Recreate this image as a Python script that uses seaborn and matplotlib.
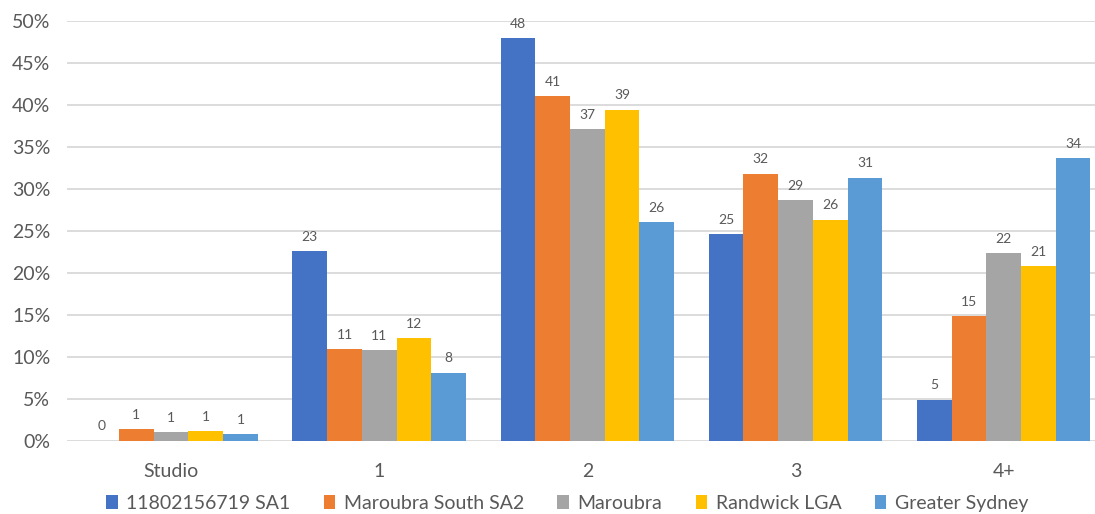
import matplotlib
matplotlib.use("Agg")
import matplotlib.pyplot as plt
from matplotlib.patches import Patch
import seaborn as sns
import pandas as pd

# Dwelling size (bedrooms) distribution, percent of dwellings
categories = ["Studio", "1", "2", "3", "4+"]
series_names = ["11802156719 SA1", "Maroubra South SA2", "Maroubra",
                "Randwick LGA", "Greater Sydney"]
sa1 = [0.0, 22.6, 47.9, 24.6, 4.9]
sa2 = [1.4, 10.9, 41.0, 31.8, 14.8]
maroubra = [1.0, 10.8, 37.1, 28.6, 22.3]
randwick = [1.1, 12.2, 39.4, 26.3, 20.8]
sydney = [0.8, 8.1, 26.0, 31.3, 33.6]
yticks = [0, 5, 10, 15, 20, 25, 30, 35, 40, 45, 50]

colors = ["#4472C4", "#ED7D31", "#A5A5A5", "#FFC000", "#5B9BD5"]
text_grey = "#595959"

rows = []
for name, vals in zip(series_names, [sa1, sa2, maroubra, randwick, sydney]):
    for cat, v in zip(categories, vals):
        rows.append({"Bedrooms": cat, "Area": name, "Share": v})
df = pd.DataFrame(rows)

sns.set_theme(style="white")
plt.rcParams["font.family"] = ["Lato", "DejaVu Sans"]

fig = plt.figure(figsize=(10.95, 5.14), dpi=100)
ax = fig.add_axes([0.0612, 0.1426, 0.9388, 0.8171])

sns.barplot(data=df, x="Bedrooms", y="Share", hue="Area",
            order=categories, hue_order=series_names,
            palette=colors, width=0.834, gap=0, saturation=1,
            linewidth=0, edgecolor="none",
            errorbar=None, legend=False, ax=ax)

for container in ax.containers:
    ax.bar_label(container, fmt="{:.0f}", padding=6, fontsize=10,
                 color=text_grey)

ax.set_ylim(0, 50)
ax.set_xlim(-0.5, 4.4387)
ax.set_yticks(yticks)
ax.set_yticklabels([f"{t}%" for t in yticks])
ax.yaxis.grid(True, color="#D9D9D9", linewidth=1.3)
ax.set_axisbelow(True)
for s in ax.spines.values():
    s.set_visible(False)
ax.tick_params(axis="both", length=0, labelsize=14, colors=text_grey)
ax.tick_params(axis="y", pad=12)
ax.tick_params(axis="x", pad=16)
ax.set_xlabel("")
ax.set_ylabel("")

handles = [Patch(facecolor=c, edgecolor="none") for c in colors]
fig.legend(handles, series_names, loc="lower center", ncol=5,
           bbox_to_anchor=(0.518, -0.03), frameon=False, fontsize=14,
           labelcolor=text_grey, handlelength=0.6, handleheight=0.75,
           handletextpad=0.45, columnspacing=1.7)

fig.savefig("out.png", dpi=100)
